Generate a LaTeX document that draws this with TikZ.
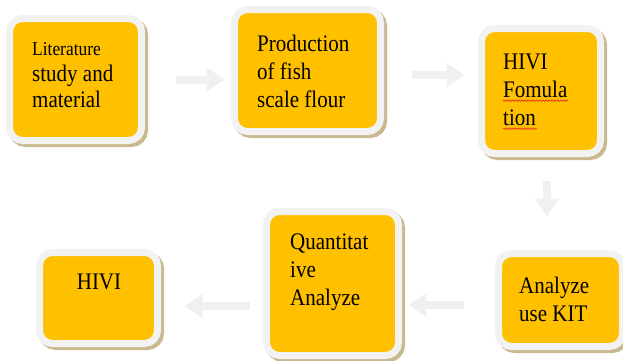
\documentclass[tikz,border=0pt]{standalone}
\usepackage{fontspec}
\usepackage{graphicx}
\setmainfont{Liberation Serif}
\usetikzlibrary{arrows.meta,calc,decorations.pathmorphing}
\definecolor{boxfill}{HTML}{FFC000}
\definecolor{rimgray}{HTML}{F2F2F2}
\definecolor{shadowtan}{HTML}{C8B98F}
\definecolor{arrowgray}{HTML}{F0F0F0}
\definecolor{spellred}{HTML}{E8281E}

% one line of box text, set slightly tall
\newcommand{\tline}[1]{\scalebox{1}[1.13]{#1}}

\tikzset{
  stepbox/.style={
    fill=boxfill, draw=rimgray, line width=7pt, rounded corners=13pt,
    inner sep=0pt,
    preaction={draw=shadowtan, fill=shadowtan, line width=7pt,
      transform canvas={shift={(3pt,-3pt)}}}
  },
  steptext/.style={align=left, inner sep=0pt, font=\fontsize{21}{28}\selectfont},
  blockarrow/.style={draw=arrowgray, line width=8pt,
    -{Triangle[width=23pt,length=18pt]}},
  spellwave/.style={draw=spellred, line width=0.6pt,
    decorate, decoration={snake, segment length=3pt, amplitude=0.8pt}}
}

\begin{document}
\begin{tikzpicture}[x=1pt, y=-1pt]
  \useasboundingbox (0,0) rectangle (623,360);

  % process boxes
  \node[stepbox, minimum width=132pt, minimum height=122pt] (b1) at (75.5,79.5) {};
  \node[stepbox, minimum width=146pt, minimum height=122pt] (b2) at (307.5,70.5) {};
  \node[stepbox, minimum width=119pt, minimum height=125pt] (b3) at (541,91) {};
  \node[stepbox, minimum width=118pt, minimum height=91pt] (b4) at (98.5,298) {};
  \node[stepbox, minimum width=132pt, minimum height=144pt] (b5) at (332.5,283.5) {};
  \node[stepbox, minimum width=124pt, minimum height=93pt] (b6) at (560.5,300) {};

  % box texts
  \node[steptext, anchor=west, font=\fontsize{21}{26}\selectfont] (t1) at (32,75)
    {{\fontsize{17.4}{26}\selectfont\tline{Literature}}\\\tline{study and}\\\tline{material}};
  \node[steptext, anchor=west] (t2) at (257,71)
    {\tline{Production}\\\tline{of fish}\\\tline{scale flour}};
  \node[steptext, anchor=west] (t3) at (503,90)
    {\tline{HIVI}\\\tline{Fomula}\\\tline{tion}};
  \node[steptext, align=center] (t4) at (99,282) {\tline{HIVI}};
  \node[steptext, anchor=west] (t5) at (290,272)
    {\tline{Quantitat}\\\tline{ive}\\\tline{Analyze}};
  \node[steptext, anchor=west] (t6) at (519,299)
    {\tline{Analyze}\\\tline{use KIT}};

  % spell-check underlines below the second and last lines of t3
  \draw[spellwave] ($(t3.base west)+(0,-25)$) -- ++(65,0);
  \draw[spellwave] ($(t3.base west)+(0,3)$) -- ++(34,0);

  % flow arrows
  \draw[blockarrow] ($(b1.east)+(30.5,0)$) -- ($(b2.west |- b1.east)+(-6.5,0)$);
  \draw[blockarrow] ($(b2.east)+(27.5,4.5)$) -- ($(b3.west |- b2.east)+(-13.5,4.5)$);
  \draw[blockarrow] ($(b3.south)+(6,23.5)$) -- ($(b3.south)+(6,59.5)$);
  \draw[blockarrow] ($(b6.west)+(-31.5,5)$) -- ($(b5.east |- b6.west)+(6.5,5)$);
  \draw[blockarrow] ($(b5.west)+(-13.5,22.5)$) -- ($(b4.east)+(23.5,8)$);
\end{tikzpicture}
\end{document}
